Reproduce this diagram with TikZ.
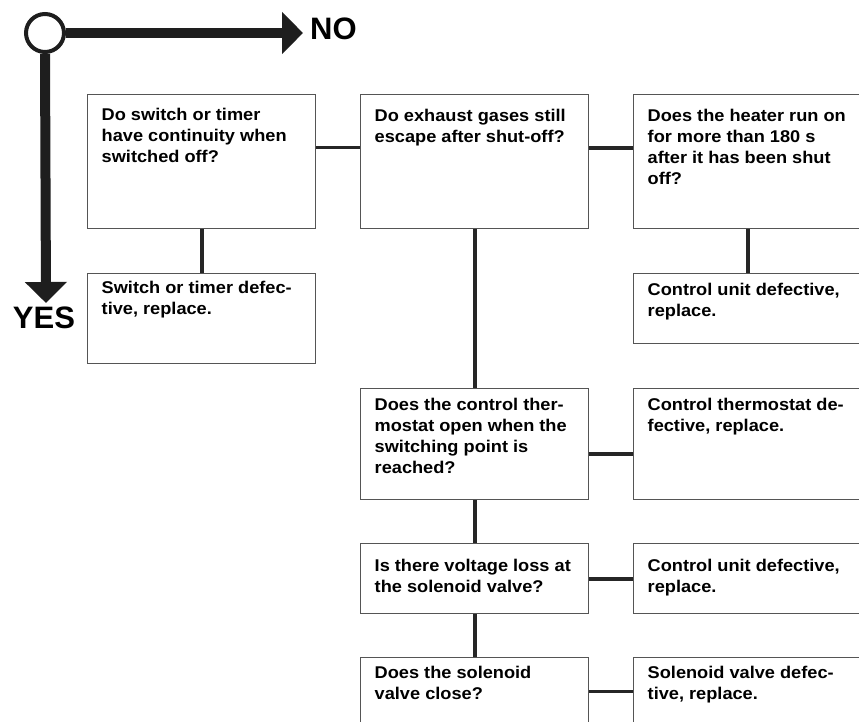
\documentclass[tikz,border=0pt]{standalone}
\usepackage{fontspec}
\usepackage{xcolor}
\usepackage{tikz}
\usetikzlibrary{arrows.meta}
\newfontfamily\boxfont{Liberation Sans}[FakeStretch=1.07]
\newfontfamily\labfont{Liberation Sans}
\definecolor{flowdark}{HTML}{1E1E1E}
\definecolor{linkdark}{HTML}{262626}
\definecolor{framegray}{HTML}{555555}
\newcommand{\qtext}[1]{\parbox[t]{228bp}{\leftskip=14bp #1}}

\begin{document}
\begin{tikzpicture}[x=1bp, y=-1bp,
    box/.style 2 args={draw=framegray, line width=1.4bp, anchor=north west, inner sep=0pt,
        text height=#1bp, text depth=#2bp, font=\boxfont\bfseries\fontsize{17bp}{21bp}\selectfont},
    link/.style={draw=linkdark, line width=3.6bp},
    mainline/.style={draw=flowdark, line width=10bp, -{Triangle[length=21bp, width=41bp]}},
    bigword/.style={inner sep=0pt, font=\labfont\bfseries\fontsize{31bp}{37bp}\selectfont}]
\useasboundingbox (0,0) rectangle (859,722);
\clip (0,0) rectangle (859,722);

% Start circle with NO / YES arrows
\node[circle, draw=flowdark, line width=4bp, minimum size=38bp, inner sep=0pt] (start) at (45,33) {};
\coordinate (noend) at (303,33);
\coordinate (yesend) at (46,303);
\draw[mainline] (start.east) -- (noend);
\draw[mainline] (start.south) -- (yesend);
\node[bigword, anchor=west] (no) at (310,28.5) {NO};
\node[bigword] (yes) at (44,318) {YES};

% Left column
\node[box={26}{108}] (q1) at (87,94) {\qtext{Do switch or timer\\have continuity when\\switched off?}};
\node[box={20}{70}] (q2) at (87,273) {\qtext{Switch or timer defec-\\tive, replace.}};

% Middle column
\node[box={27}{107}] (q3) at (360,94) {\qtext{Do exhaust gases still\\escape after shut-off?}};
\node[box={22}{89}] (q6) at (360,388) {\qtext{Does the control ther-\\mostat open when the\\switching point is\\reached?}};
\node[box={28}{42}] (q8) at (360,543) {\qtext{Is there voltage loss at\\the solenoid valve?}};
\node[box={21}{90}] (q10) at (360,657) {\qtext{Does the solenoid\\valve close?}};

% Right column
\node[box={27}{107}] (q4) at (633,94) {\qtext{Does the heater run on\\for more than 180 s\\after it has been shut\\off?}};
\node[box={22}{48}] (q5) at (633,273) {\qtext{Control unit defective,\\replace.}};
\node[box={22}{89}] (q7) at (633,388) {\qtext{Control thermostat de-\\fective, replace.}};
\node[box={28}{42}] (q9) at (633,543) {\qtext{Control unit defective,\\replace.}};
\node[box={21}{90}] (q11) at (633,657) {\qtext{Solenoid valve defec-\\tive, replace.}};

% Connectors
\draw[link] (q1) -- (q2);
\draw[link] ([yshift=-53.5bp]q1.north east) -- ([yshift=-53.5bp]q3.north west);
\draw[link] ([yshift=-54bp]q3.north east) -- ([yshift=-54bp]q4.north west);
\draw[link] (q4) -- (q5);
\draw[link] (q3) -- (q6);
\draw[link] ([yshift=-66bp]q6.north east) -- ([yshift=-66bp]q7.north west);
\draw[link] (q6) -- (q8);
\draw[link] (q8) -- (q9);
\draw[link] (q8) -- (q10);
\draw[link] ([yshift=-34.5bp]q10.north east) -- ([yshift=-34.5bp]q11.north west);
\end{tikzpicture}
\end{document}
